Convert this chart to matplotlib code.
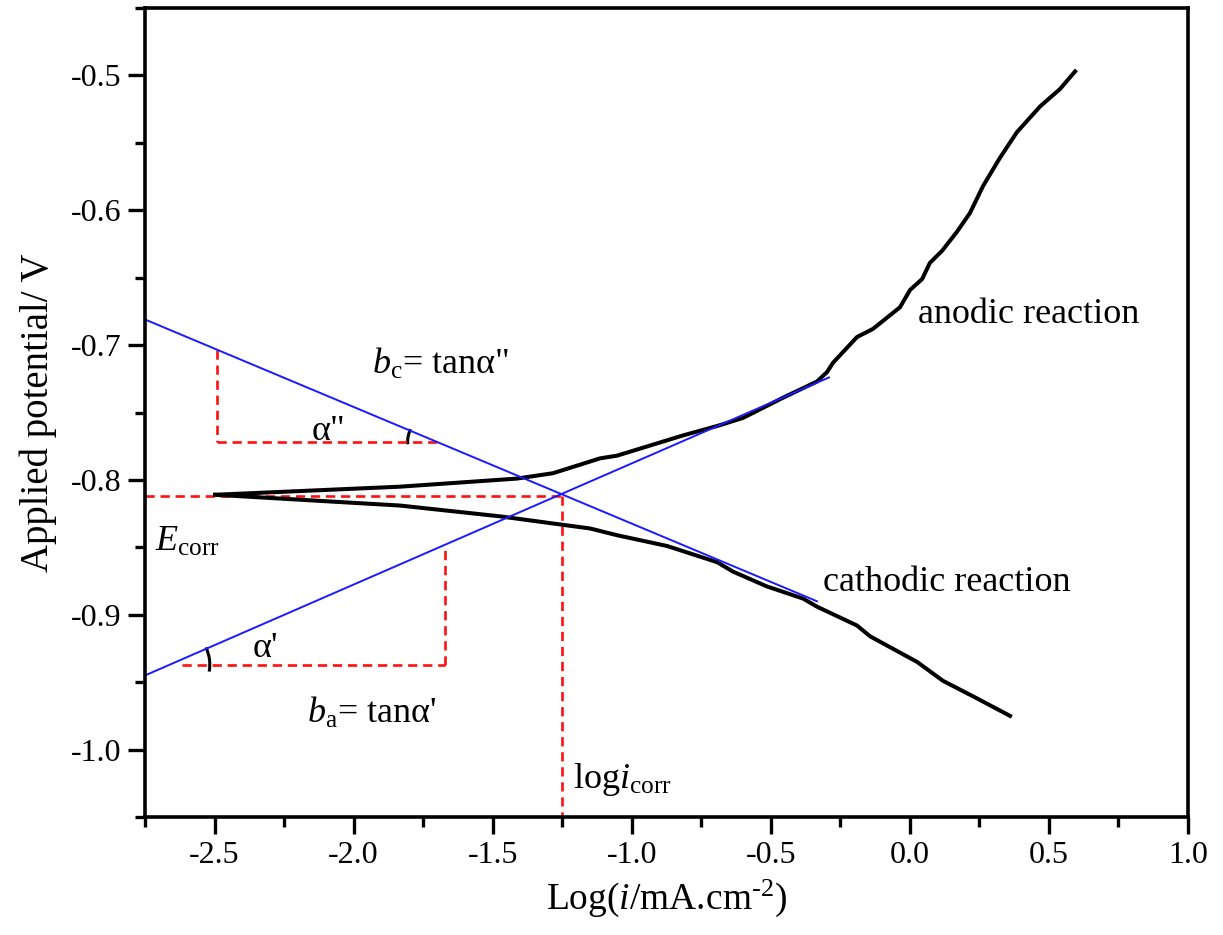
import numpy as np
import matplotlib.pyplot as plt
from matplotlib.patches import Arc
from matplotlib.transforms import ScaledTranslation

plt.rcParams['font.family'] = ['Liberation Serif', 'DejaVu Serif']
plt.rcParams['mathtext.fontset'] = 'custom'
plt.rcParams['mathtext.rm'] = 'Liberation Serif'
plt.rcParams['mathtext.it'] = 'Liberation Serif:italic'

# polarization curve
anodic_x = [-2.498, -1.833, -1.413, -1.283, -1.114, -1.053, -0.816, -0.693, -0.600,
            -0.456, -0.334, -0.298, -0.276, -0.190, -0.133, -0.036, 0.001, 0.044,
            0.072, 0.116, 0.169, 0.216, 0.263, 0.324, 0.385, 0.468, 0.540, 0.594]
anodic_y = [-0.811, -0.805, -0.799, -0.795, -0.784, -0.782, -0.767, -0.760, -0.754,
            -0.739, -0.727, -0.720, -0.713, -0.694, -0.688, -0.672, -0.659, -0.651,
            -0.639, -0.630, -0.616, -0.602, -0.582, -0.561, -0.542, -0.523, -0.510, -0.497]

cathodic_x = [-2.498, -1.833, -1.474, -1.258, -1.150, -1.053, -0.873, -0.693, -0.636,
              -0.514, -0.384, -0.334, -0.190, -0.143, 0.026, 0.119, 0.241, 0.360]
cathodic_y = [-0.811, -0.819, -0.827, -0.833, -0.836, -0.841, -0.849, -0.861, -0.868,
              -0.879, -0.888, -0.894, -0.908, -0.916, -0.935, -0.949, -0.962, -0.975]

# Tafel lines (end points)
tafel_c_x = [-2.75, -0.334]
tafel_c_y = [-0.681, -0.890]
tafel_a_x = [-2.75, -0.291]
tafel_a_y = [-0.945, -0.724]

# construction values
log_icorr = -1.252
e_corr = -0.812
tri_c_x0 = -2.49
tri_c_y0 = -0.772
tri_a_x0 = -2.618
tri_a_x1 = -1.671
tri_a_y0 = -0.937


def line_at(xs, ys, x):
    return ys[0] + (ys[1] - ys[0]) / (xs[1] - xs[0]) * (x - xs[0])


def x_at(xs, ys, y):
    return xs[0] + (xs[1] - xs[0]) / (ys[1] - ys[0]) * (y - ys[0])


fig = plt.figure(figsize=(12.23, 9.35), dpi=100)
ax = fig.add_axes([0.1186, 0.1262, 0.8528, 0.8652])

red = dict(color='#ff1010', lw=1.9, ls=(0, (3.5, 2.2)))
# Ecorr / log icorr
ax.plot([-2.75, log_icorr], [e_corr, e_corr], **red)
ax.plot([log_icorr, log_icorr], [e_corr, -1.05], **red)
# cathodic triangle
c_vx = x_at(tafel_c_x, tafel_c_y, tri_c_y0)
ax.plot([tri_c_x0, tri_c_x0], [line_at(tafel_c_x, tafel_c_y, tri_c_x0), tri_c_y0], **red)
ax.plot([tri_c_x0, c_vx], [tri_c_y0, tri_c_y0], **red)
# anodic triangle
ax.plot([tri_a_x0, tri_a_x1], [tri_a_y0, tri_a_y0], **red)
ax.plot([tri_a_x1, tri_a_x1], [tri_a_y0, line_at(tafel_a_x, tafel_a_y, tri_a_x1)], **red)

ax.plot(anodic_x, anodic_y, color='black', lw=2.9, solid_joinstyle='round')
ax.plot(cathodic_x, cathodic_y, color='black', lw=2.9, solid_joinstyle='round')
ax.plot(tafel_c_x, tafel_c_y, color='#1a1aff', lw=1.4)
ax.plot(tafel_a_x, tafel_a_y, color='#1a1aff', lw=1.4)

ax.set_xlim(-2.75, 1.0)
ax.set_ylim(-1.05, -0.45)
ax.set_xticks(np.arange(-2.5, 1.01, 0.5))
ax.set_xticks(np.arange(-2.75, 1.01, 0.25), minor=True)
ax.set_yticks(np.arange(-1.0, -0.49, 0.1))
ax.set_yticks(np.arange(-1.05, -0.449, 0.05), minor=True)
ax.set_xticklabels(['%.1f' % v for v in np.arange(-2.5, 1.01, 0.5)])
ax.set_yticklabels(['%.1f' % v for v in np.arange(-1.0, -0.49, 0.1)])
for s in ax.spines.values():
    s.set_linewidth(2.6)
ax.tick_params(which='both', direction='out', width=2.4, top=False, right=False,
               labelsize=23, pad=5)
ax.tick_params(which='major', length=12)
ax.tick_params(which='minor', length=7)

ax.set_xlabel(r'Log($i$/mA.cm$^{\text{-}2}$)', fontsize=27, labelpad=6)
ax.set_ylabel('Applied potential/ V', fontsize=28, labelpad=10)


# angle arcs
def angle_of(xs, ys):
    p = ax.transData.transform([[xs[0], ys[0]], [xs[1], ys[1]]])
    return np.degrees(np.arctan2(p[1, 1] - p[0, 1], p[1, 0] - p[0, 0]))


ang_c = angle_of(tafel_c_x, tafel_c_y)
ang_a = angle_of(tafel_a_x, tafel_a_y)
arc_c = Arc((0, 0), 0.6, 0.6, theta1=180 + ang_c - 3, theta2=184, lw=2.2, color='black',
            transform=fig.dpi_scale_trans + ScaledTranslation(c_vx, tri_c_y0, ax.transData))
a_vx = x_at(tafel_a_x, tafel_a_y, tri_a_y0)
arc_a = Arc((0, 0), 0.8, 0.8, theta1=-10, theta2=ang_a + 2, lw=2.2, color='black',
            transform=fig.dpi_scale_trans + ScaledTranslation(a_vx, tri_a_y0, ax.transData))
ax.add_patch(arc_c)
ax.add_patch(arc_a)

fs = 26
ax.text(0.029, -0.677, 'anodic reaction', fontsize=fs, va='center', ha='left')
ax.text(-0.312, -0.876, 'cathodic reaction', fontsize=fs, va='center', ha='left')
ax.text(-1.934, -0.714, r'$b_{\mathrm{c}}$= tanα"', fontsize=fs, va='center', ha='left')
ax.text(-2.15, -0.764, 'α"', fontsize=fs, va='center', ha='left')
ax.text(-2.714, -0.846, r'$E_{\mathrm{corr}}$', fontsize=fs, va='center', ha='left')
ax.text(-2.365, -0.925, "α'", fontsize=fs, va='center', ha='left')
ax.text(-2.168, -0.973, r"$b_{\mathrm{a}}$= tanα'", fontsize=fs, va='center', ha='left')
ax.text(-1.211, -1.022, r'log$i_{\mathrm{corr}}$', fontsize=fs, va='center', ha='left')

fig.savefig('out.png', dpi=100)
